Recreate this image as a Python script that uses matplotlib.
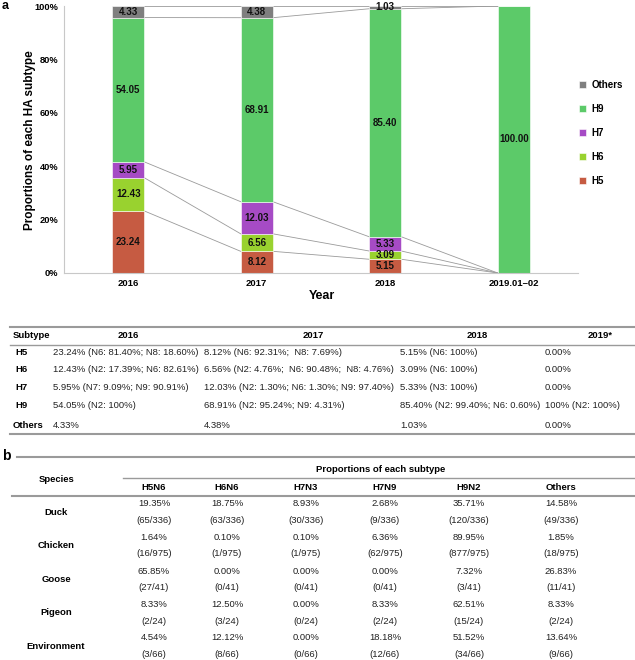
import matplotlib.pyplot as plt
from matplotlib.lines import Line2D
import numpy as np

plt.rcParams['font.family'] = ['Liberation Sans', 'DejaVu Sans']

# ---- panel a: stacked bars ----
years = ['2016', '2017', '2018', '2019.01\u201302']
h5 = [23.24, 8.12, 5.15, 0.0]
h6 = [12.43, 6.56, 3.09, 0.0]
h7 = [5.95, 12.03, 5.33, 0.0]
h9 = [54.05, 68.91, 85.40, 100.00]
others = [4.33, 4.38, 1.03, 0.0]

series_names = ['H5', 'H6', 'H7', 'H9', 'Others']
series_colors = ['#C65B42', '#99D22F', '#A64BC5', '#5CCA69', '#7F7F7F']

# ---- table under panel a ----
table_a_rows = ['H5', 'H6', 'H7', 'H9', 'Others']
table_a_cols = ['2016', '2017', '2018', '2019*']
col_2016 = ['23.24% (N6: 81.40%; N8: 18.60%)', '12.43% (N2: 17.39%; N6: 82.61%)',
            '5.95% (N7: 9.09%; N9: 90.91%)', '54.05% (N2: 100%)', '4.33%']
col_2017 = ['8.12% (N6: 92.31%;  N8: 7.69%)', '6.56% (N2: 4.76%;  N6: 90.48%;  N8: 4.76%)',
            '12.03% (N2: 1.30%; N6: 1.30%; N9: 97.40%)', '68.91% (N2: 95.24%; N9: 4.31%)', '4.38%']
col_2018 = ['5.15% (N6: 100%)', '3.09% (N6: 100%)', '5.33% (N3: 100%)',
            '85.40% (N2: 99.40%; N6: 0.60%)', '1.03%']
col_2019 = ['0.00%', '0.00%', '0.00%', '100% (N2: 100%)', '0.00%']

# ---- panel b table ----
species = ['Duck', 'Chicken', 'Goose', 'Pigeon', 'Environment']
subtypes_b = ['H5N6', 'H6N6', 'H7N3', 'H7N9', 'H9N2', 'Others']
totals = [336, 975, 41, 24, 66]
pct_b = [['19.35%', '18.75%', '8.93%', '2.68%', '35.71%', '14.58%'],
         ['1.64%', '0.10%', '0.10%', '6.36%', '89.95%', '1.85%'],
         ['65.85%', '0.00%', '0.00%', '0.00%', '7.32%', '26.83%'],
         ['8.33%', '12.50%', '0.00%', '8.33%', '62.51%', '8.33%'],
         ['4.54%', '12.12%', '0.00%', '18.18%', '51.52%', '13.64%']]
count_b = [[65, 63, 30, 9, 120, 49],
           [16, 1, 1, 62, 877, 18],
           [27, 0, 0, 0, 3, 11],
           [2, 3, 0, 2, 15, 2],
           [3, 8, 0, 12, 34, 9]]

W, H = 635, 660
fig = plt.figure(figsize=(W / 100, H / 100), dpi=100)


def fx(px):
    return px / W


def fy(py):
    return 1 - py / H


def hline(x0, x1, y, lw=1.0, color='#9a9a9a'):
    fig.add_artist(Line2D([fx(x0), fx(x1)], [fy(y), fy(y)], color=color, lw=lw,
                          transform=fig.transFigure))


ax = fig.add_axes([fx(64), fy(273), (578 - 64) / W, (273 - 6) / H])
x = np.arange(len(years))
bw = 0.25
data = [h5, h6, h7, h9, others]
bottom = np.zeros(len(years))
cums = [bottom.copy()]
handles = []
for name, vals, col in zip(series_names, data, series_colors):
    vals = np.array(vals)
    b = ax.bar(x, vals, bw, bottom=bottom, color=col, edgecolor='white', linewidth=0.4,
               label=name)
    handles.append(b)
    for xi, v, b0 in zip(x, vals, bottom):
        if v > 0:
            ax.text(xi, b0 + v / 2, '%.2f' % v, ha='center', va='center',
                    fontsize=7, fontweight='bold', color='#111111')
    bottom = bottom + vals
    cums.append(bottom.copy())

# connecting lines between segment boundaries
for level in cums[1:]:
    for i in range(len(years) - 1):
        ax.plot([x[i] + bw / 2, x[i + 1] - bw / 2], [level[i], level[i + 1]],
                color='#9a9a9a', lw=0.6, zorder=0)

ax.set_xlim(-0.5, 3.5)
ax.set_ylim(0, 100)
ax.set_xticks(x)
ax.set_xticklabels(years, fontsize=6.8, fontweight='bold')
ax.set_yticks([0, 20, 40, 60, 80, 100])
ax.set_yticklabels(['0%', '20%', '40%', '60%', '80%', '100%'], fontsize=6.7, fontweight='bold')
ax.tick_params(length=0, pad=4)
for s in ['top', 'right']:
    ax.spines[s].set_visible(False)
for s in ['left', 'bottom']:
    ax.spines[s].set_color('#c8c8c8')
    ax.spines[s].set_linewidth(0.8)

fig.text(fx(30), fy(140), 'Proportions of each HA subtype', fontsize=8.5, fontweight='bold',
         rotation=90, ha='center', va='center')
fig.text(fx(322), fy(296), 'Year', fontsize=9, fontweight='bold', ha='center', va='center')
fig.text(fx(2), fy(6), 'a', fontsize=9, fontweight='bold', ha='left', va='center')

leg = ax.legend(handles[::-1], series_names[::-1], loc='upper left',
                bbox_to_anchor=(fx(574), fy(75)), bbox_transform=fig.transFigure,
                frameon=False, fontsize=7, handlelength=0.7, handleheight=0.7,
                handletextpad=0.6, labelspacing=1.45, borderpad=0)
for t in leg.get_texts():
    t.set_fontweight('bold')

# ---- table a ----
hline(10, 635, 327, lw=1.5)
hline(10, 635, 345, lw=1.0)
hline(10, 635, 434, lw=1.5)
fs = 6.8
fig.text(fx(13), fy(336), 'Subtype', fontsize=fs, fontweight='bold', va='center')
for cx, lab in zip([128, 313, 477, 600], table_a_cols):
    fig.text(fx(cx), fy(336), lab, fontsize=fs, fontweight='bold', ha='center', va='center')
row_y = [353, 370, 388, 405, 425]
col_x = [53, 204, 400, 545]
cols = [col_2016, col_2017, col_2018, col_2019]
for r, (lab, ry) in enumerate(zip(table_a_rows, row_y)):
    rx = 13 if lab == 'Others' else 15
    fig.text(fx(rx), fy(ry), lab, fontsize=fs, fontweight='bold', va='center')
    for cx, col in zip(col_x, cols):
        fig.text(fx(cx), fy(ry), col[r], fontsize=fs, va='center', color='#222222')

# ---- panel b ----
fig.text(fx(2), fy(456), 'b', fontsize=10, fontweight='bold', ha='left', va='center')
hline(17, 635, 457, lw=1.5)
hline(123, 635, 478, lw=1.0)
hline(12, 635, 496, lw=1.5)
fig.text(fx(381), fy(470), 'Proportions of each subtype', fontsize=fs, fontweight='bold',
         ha='center', va='center')
fig.text(fx(57), fy(479), 'Species', fontsize=fs, fontweight='bold', ha='center', va='center')
sub_x = [154, 227, 306, 385, 469, 561]
for cx, lab in zip(sub_x, subtypes_b):
    fig.text(fx(cx), fy(487), lab, fontsize=fs, fontweight='bold', ha='center', va='center')
for i, sp in enumerate(species):
    y1 = 504 + i * 33.5
    y2 = y1 + 16.5
    fig.text(fx(56), fy((y1 + y2) / 2), sp, fontsize=fs, fontweight='bold',
             ha='center', va='center')
    for j, cx in enumerate(sub_x):
        fig.text(fx(cx), fy(y1), pct_b[i][j], fontsize=fs, ha='center', va='center',
                 color='#222222')
        fig.text(fx(cx), fy(y2), '(%d/%d)' % (count_b[i][j], totals[i]), fontsize=fs,
                 ha='center', va='center', color='#222222')

fig.savefig('out.png', dpi=100)
